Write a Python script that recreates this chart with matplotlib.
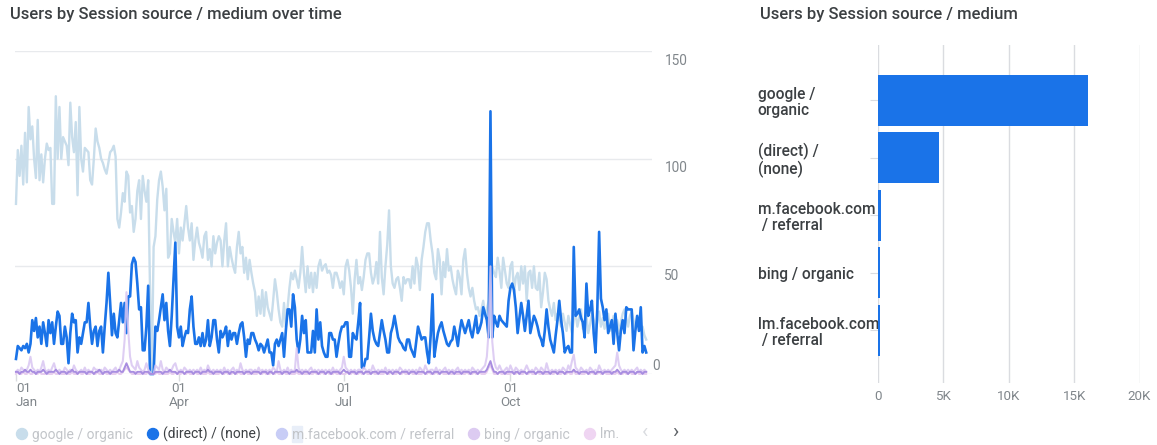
import matplotlib
matplotlib.use("Agg")
import matplotlib.pyplot as plt
from matplotlib.patches import Circle, Rectangle
import pandas as pd

plt.rcParams['font.family'] = ['Roboto', 'DejaVu Sans']

# ---------------- data ----------------
start_date = "2023-01-01"

google_organic = [
    79, 104, 92, 106, 88, 112, 89, 124, 109, 115,
    100, 91, 118, 90, 102, 89, 100, 107, 104, 105,
    79, 79, 129, 100, 124, 100, 110, 108, 106, 97,
    126, 110, 103, 117, 83, 124, 100, 94, 105, 104,
    103, 90, 88, 100, 114, 108, 105, 100, 98, 95,
    93, 98, 103, 104, 106, 101, 72, 68, 75, 84,
    80, 94, 92, 75, 78, 66, 72, 85, 90, 72,
    92, 85, 80, 90, 40, 0, 59, 64, 81, 90,
    94, 87, 76, 86, 54, 56, 72, 66, 61, 72,
    56, 68, 62, 70, 78, 68, 62, 70, 53, 62,
    68, 61, 58, 54, 64, 66, 53, 58, 50, 64,
    56, 61, 64, 62, 50, 62, 70, 50, 59, 54,
    50, 47, 59, 66, 56, 59, 47, 54, 44, 53,
    47, 42, 38, 27, 36, 28, 39, 27, 38, 31,
    28, 25, 34, 44, 38, 30, 24, 22, 33, 22,
    31, 40, 47, 44, 48, 44, 40, 47, 59, 47,
    38, 50, 40, 47, 38, 47, 40, 50, 53, 48,
    50, 51, 47, 48, 46, 40, 47, 47, 44, 40,
    43, 37, 50, 53, 48, 40, 28, 44, 53, 42,
    45, 39, 45, 53, 56, 56, 47, 42, 45, 52,
    42, 66, 45, 37, 50, 60, 76, 50, 42, 40,
    44, 45, 40, 34, 45, 42, 44, 44, 40, 50,
    42, 54, 50, 39, 53, 59, 66, 70, 70, 62,
    56, 47, 44, 58, 53, 37, 52, 45, 58, 48,
    50, 44, 40, 37, 48, 45, 37, 53, 58, 47,
    40, 36, 40, 34, 30, 31, 27, 30, 34, 27,
    30, 34, 56, 50, 47, 45, 54, 48, 40, 54,
    48, 42, 40, 50, 52, 38, 45, 47, 39, 50,
    42, 50, 34, 47, 48, 40, 50, 40, 39, 47,
    31, 38, 47, 44, 34, 30, 27, 33, 25, 28,
    26, 22, 28, 24, 20, 27, 23, 19, 25, 28,
    22, 26, 30, 21, 24, 27, 19, 23, 28, 25,
    20, 24, 29, 22, 26, 21, 24, 28, 20, 23,
    27, 22, 25, 19, 24, 28, 30, 26, 22, 27,
    29, 25, 21, 26, 23, 20, 22, 18, 16,
]

direct_none = [
    7, 13, 12, 11, 13, 12, 14, 10, 14, 25,
    20, 26, 17, 22, 14, 24, 19, 13, 25, 19,
    24, 14, 22, 29, 27, 14, 14, 22, 17, 5,
    19, 28, 24, 25, 10, 17, 14, 19, 24, 24,
    33, 22, 14, 20, 22, 13, 20, 22, 10, 22,
    33, 47, 33, 18, 28, 19, 17, 25, 33, 24,
    33, 19, 36, 36, 51, 54, 52, 42, 30, 31,
    11, 11, 22, 41, 0, 0, 0, 22, 20, 25,
    31, 37, 25, 33, 20, 13, 27, 44, 61, 22,
    17, 22, 13, 17, 20, 19, 30, 36, 22, 14,
    14, 17, 13, 19, 13, 16, 25, 13, 17, 25,
    25, 16, 10, 20, 17, 19, 22, 13, 20, 16,
    19, 19, 14, 19, 23, 24, 17, 8, 16, 14,
    19, 19, 16, 14, 11, 14, 13, 10, 13, 16,
    10, 10, 4, 14, 16, 13, 16, 19, 8, 20,
    30, 30, 22, 37, 31, 16, 10, 16, 27, 19,
    25, 10, 10, 10, 20, 10, 30, 16, 24, 13,
    10, 8, 8, 19, 19, 16, 16, 8, 14, 19,
    22, 22, 24, 24, 8, 8, 19, 17, 16, 24,
    33, 3, 3, 7, 7, 17, 28, 20, 16, 14,
    13, 19, 25, 20, 16, 10, 10, 19, 22, 27,
    22, 17, 15, 14, 12, 11, 16, 16, 12, 10,
    8, 15, 22, 19, 16, 17, 17, 10, 5, 18,
    37, 8, 14, 19, 22, 24, 20, 17, 14, 13,
    15, 16, 22, 18, 13, 20, 25, 22, 19, 22,
    25, 20, 17, 22, 27, 19, 21, 24, 31, 28,
    25, 17, 122, 17, 27, 24, 22, 27, 25, 24,
    23, 22, 34, 40, 42, 39, 31, 19, 26, 33,
    27, 20, 27, 34, 19, 23, 27, 25, 22, 18,
    16, 13, 20, 30, 22, 16, 13, 10, 18, 25,
    34, 25, 19, 10, 12, 13, 10, 10, 59, 27,
    28, 30, 26, 24, 17, 42, 27, 30, 34, 19,
    10, 30, 66, 35, 31, 25, 30, 19, 22, 25,
    14, 28, 19, 11, 20, 25, 19, 31, 30, 30,
    30, 11, 20, 27, 20, 31, 10, 13, 10,
]

m_facebook_referral = [
    1, 1, 0, 1, 1, 2, 1, 1, 2, 1,
    1, 0, 1, 1, 1, 2, 1, 0, 1, 1,
    1, 1, 2, 1, 0, 1, 1, 1, 0, 1,
    1, 2, 1, 1, 0, 1, 1, 1, 1, 0,
    1, 1, 1, 0, 1, 1, 2, 1, 0, 1,
    1, 1, 0, 1, 1, 1, 1, 2, 1, 1,
    3, 5, 3, 1, 1, 1, 0, 1, 1, 1,
    0, 1, 1, 1, 0, 0, 0, 1, 1, 1,
    1, 0, 1, 1, 1, 2, 1, 1, 1, 0,
    1, 1, 1, 0, 1, 1, 1, 1, 0, 1,
    1, 1, 0, 1, 1, 1, 2, 1, 1, 0,
    1, 1, 1, 1, 0, 1, 1, 1, 0, 1,
    1, 0, 1, 1, 1, 1, 0, 1, 1, 1,
    0, 1, 1, 1, 1, 0, 1, 1, 1, 0,
    1, 1, 0, 1, 1, 1, 1, 0, 1, 1,
    1, 0, 1, 1, 1, 2, 1, 1, 0, 1,
    1, 1, 0, 1, 1, 1, 1, 0, 1, 1,
    1, 0, 1, 1, 0, 1, 1, 1, 1, 0,
    1, 2, 1, 1, 0, 1, 1, 1, 0, 1,
    1, 1, 0, 1, 1, 1, 0, 1, 1, 1,
    0, 1, 1, 1, 1, 0, 1, 1, 0, 1,
    1, 1, 0, 1, 1, 1, 1, 0, 1, 1,
    1, 0, 1, 1, 1, 1, 0, 1, 1, 1,
    0, 1, 1, 1, 0, 1, 1, 1, 1, 0,
    1, 1, 0, 1, 1, 1, 0, 1, 1, 1,
    1, 0, 1, 1, 1, 0, 1, 1, 1, 1,
    2, 4, 6, 3, 1, 1, 0, 1, 1, 1,
    0, 1, 1, 1, 1, 0, 1, 1, 0, 1,
    1, 1, 0, 1, 1, 1, 1, 0, 1, 1,
    1, 0, 1, 1, 1, 0, 1, 1, 1, 0,
    1, 1, 1, 0, 1, 1, 1, 1, 2, 1,
    1, 0, 1, 1, 1, 1, 0, 1, 1, 1,
    0, 1, 1, 1, 0, 1, 1, 1, 1, 0,
    1, 1, 2, 1, 0, 1, 1, 1, 0, 1,
    1, 1, 0, 1, 1, 1, 0, 1, 1,
]

bing_organic = [
    1, 2, 1, 3, 2, 1, 2, 4, 8, 3,
    2, 1, 2, 1, 3, 6, 2, 1, 2, 1,
    3, 5, 2, 1, 2, 1, 1, 3, 2, 1,
    2, 1, 4, 2, 1, 1, 2, 1, 3, 1,
    2, 1, 1, 3, 2, 2, 1, 2, 1, 3,
    2, 1, 2, 1, 2, 3, 1, 2, 4, 6,
    16, 38, 20, 8, 4, 3, 2, 6, 3, 2,
    1, 2, 5, 2, 1, 0, 0, 4, 3, 2,
    6, 2, 1, 3, 2, 1, 2, 4, 5, 2,
    1, 2, 1, 3, 2, 1, 2, 1, 2, 1,
    2, 1, 3, 1, 2, 1, 4, 2, 1, 2,
    1, 2, 1, 2, 1, 3, 1, 2, 1, 2,
    3, 1, 2, 1, 5, 2, 1, 2, 1, 2,
    2, 1, 2, 1, 3, 1, 2, 1, 2, 1,
    2, 1, 3, 2, 1, 6, 2, 1, 2, 1,
    3, 1, 2, 1, 2, 12, 3, 1, 2, 1,
    2, 1, 2, 3, 1, 2, 1, 2, 1, 2,
    1, 2, 1, 2, 1, 3, 1, 2, 1, 2,
    3, 8, 3, 2, 1, 2, 1, 2, 1, 2,
    2, 1, 3, 2, 1, 2, 1, 4, 2, 1,
    2, 1, 2, 1, 3, 1, 2, 1, 2, 1,
    2, 1, 3, 2, 1, 2, 1, 2, 1, 2,
    1, 2, 1, 3, 2, 1, 4, 2, 1, 2,
    2, 1, 3, 1, 2, 1, 2, 3, 1, 2,
    1, 2, 1, 2, 3, 1, 2, 1, 2, 1,
    2, 1, 3, 2, 1, 2, 1, 2, 3, 4,
    8, 20, 50, 15, 6, 3, 2, 4, 2, 1,
    2, 3, 1, 4, 2, 1, 3, 2, 1, 2,
    1, 2, 4, 2, 1, 2, 1, 3, 2, 1,
    3, 2, 1, 5, 2, 1, 2, 1, 2, 1,
    2, 1, 3, 2, 1, 4, 2, 6, 9, 3,
    2, 1, 3, 2, 1, 2, 1, 3, 2, 1,
    2, 1, 4, 2, 1, 2, 1, 2, 1, 2,
    3, 4, 10, 4, 2, 1, 2, 1, 2, 1,
    2, 1, 2, 3, 1, 2, 1, 2, 1,
]

lm_facebook_referral = [
    0, 1, 0, 0, 1, 0, 0, 1, 0, 0,
    1, 0, 0, 1, 0, 0, 0, 1, 0, 0,
    0, 1, 0, 0, 1, 0, 0, 0, 1, 0,
    0, 1, 0, 0, 0, 1, 0, 0, 1, 0,
    0, 0, 1, 0, 0, 1, 0, 0, 0, 1,
    0, 0, 1, 0, 0, 0, 1, 0, 0, 1,
    2, 3, 2, 1, 0, 0, 1, 0, 0, 0,
    1, 0, 0, 1, 0, 0, 0, 0, 1, 0,
    0, 1, 0, 0, 0, 1, 0, 0, 1, 0,
    0, 0, 1, 0, 0, 1, 0, 0, 0, 1,
    0, 0, 1, 0, 0, 0, 1, 0, 0, 1,
    0, 0, 0, 1, 0, 0, 1, 0, 0, 0,
    1, 0, 0, 1, 0, 0, 0, 1, 0, 0,
    1, 0, 0, 0, 1, 0, 0, 1, 0, 0,
    0, 1, 0, 0, 1, 0, 0, 0, 1, 0,
    0, 1, 0, 0, 0, 1, 0, 0, 1, 0,
    0, 0, 1, 0, 0, 1, 0, 0, 0, 1,
    0, 0, 1, 0, 0, 0, 1, 0, 0, 1,
    0, 0, 0, 1, 0, 0, 1, 0, 0, 0,
    1, 0, 0, 1, 0, 0, 0, 1, 0, 0,
    1, 0, 0, 0, 1, 0, 0, 1, 0, 0,
    0, 1, 0, 0, 1, 0, 0, 0, 1, 0,
    0, 1, 0, 0, 0, 1, 0, 0, 1, 0,
    0, 0, 1, 0, 0, 1, 0, 0, 0, 1,
    0, 0, 1, 0, 0, 0, 1, 0, 0, 1,
    0, 0, 0, 1, 0, 0, 1, 0, 0, 0,
    1, 3, 4, 2, 0, 0, 0, 1, 0, 0,
    1, 0, 0, 0, 1, 0, 0, 1, 0, 0,
    0, 1, 0, 0, 1, 0, 0, 0, 1, 0,
    0, 1, 0, 0, 0, 1, 0, 0, 1, 0,
    0, 0, 1, 0, 0, 1, 0, 0, 2, 0,
    0, 1, 0, 0, 0, 1, 0, 0, 1, 0,
    0, 0, 1, 0, 0, 1, 0, 0, 0, 1,
    0, 0, 1, 0, 0, 0, 1, 0, 0, 1,
    0, 0, 0, 1, 0, 0, 1, 0, 0,
]

bar_categories = ["google /\norganic", "(direct) /\n(none)", "m.facebook.com\n / referral",
                  "bing / organic", "lm.facebook.com\n / referral"]
bar_values = [16070, 4680, 220, 170, 160]
bar_ticks = [0, 5000, 10000, 15000, 20000]
bar_tick_labels = ["0", "5K", "10K", "15K", "20K"]

y_ticks = [0, 50, 100, 150]
month_ticks = ["2023-01-01", "2023-04-01", "2023-07-01", "2023-10-01"]
month_labels = ["01\nJan", "01\nApr", "01\nJul", "01\nOct"]

legend_names = ["google / organic", "(direct) / (none)", "m.facebook.com / referral",
                "bing / organic", "lm."]

# ---------------- style ----------------
W, H = 1157, 445
TITLE_C = "#3c4043"
TICK_C = "#80868b"
GRID_C = "#e8eaed"
C_GOOGLE = "#c8ddeb"
C_DIRECT = "#1a73e8"
C_MFB = "#a88de0"
C_BING = "#d9c6f2"
C_LM = "#e7cdee"

fig = plt.figure(figsize=(W / 100, H / 100), dpi=100)

# ---------------- line chart ----------------
ax = fig.add_axes([15 / W, 1 - 374 / H, (652 - 15) / W, (374 - 51) / H])
dates = pd.date_range(start_date, periods=len(direct_none))
d0 = pd.Timestamp(start_date)
ax.set_xlim(d0 - pd.Timedelta(hours=13), d0 + pd.Timedelta(days=351.2))
ax.set_ylim(0, 150)

for v in y_ticks:
    ax.axhline(v, color=GRID_C, lw=1.0, zorder=0)

ax.plot(dates, google_organic, color=C_GOOGLE, lw=1.7, zorder=2, clip_on=False)
ax.plot(dates, direct_none, color=C_DIRECT, lw=1.9, zorder=3, clip_on=False)
ax.plot(dates, lm_facebook_referral, color=C_LM, lw=1.4, zorder=4, clip_on=False)
ax.plot(dates, bing_organic, color=C_BING, lw=1.5, alpha=0.85, zorder=4, clip_on=False)
ax.plot(dates, m_facebook_referral, color=C_MFB, lw=1.4, zorder=5, clip_on=False)

for s in ax.spines.values():
    s.set_visible(False)
ax.set_yticks([])
ax.set_xticks(pd.to_datetime(month_ticks))
ax.set_xticklabels(month_labels, fontsize=9.6, color=TICK_C, linespacing=1.05)
ax.tick_params(axis="x", length=5, color="#dadce0", width=1, pad=1)
lbls = ax.get_xticklabels()
lbls[0].set_ha("left")
ax.patch.set_alpha(0)

# ---------------- bar chart ----------------
bx = fig.add_axes([878 / W, 1 - 383 / H, (1139.5 - 878) / W, (383 - 45) / H])
ypos = list(range(len(bar_values)))
bx.barh(ypos, bar_values, height=0.89, color=C_DIRECT, zorder=3)
bx.set_ylim(4.92, -0.96)
bx.set_xlim(0, 20000)
bx.set_xticks(bar_ticks)
bx.set_xticklabels(bar_tick_labels, fontsize=9.6, color=TICK_C)
bx.tick_params(axis="x", length=0, pad=5)
bx.set_yticks(ypos)
bx.set_yticklabels(bar_categories, fontsize=11.2, color=TITLE_C, fontweight=500,
                   ha="left", linespacing=1.12)
bx.tick_params(axis="y", length=6, color="#dadce0", pad=(118 - 6) * 0.72)
bx.grid(axis="x", color="#dadce0", lw=1, zorder=0)
for s in bx.spines.values():
    s.set_visible(False)

# ---------------- overlay (titles, legend, y labels) ----------------
ov = fig.add_axes([0, 0, 1, 1])
ov.set_xlim(0, W)
ov.set_ylim(H, 0)
ov.axis("off")
ov.patch.set_alpha(0)

ov.text(10, 15, "Users by Session source / medium over time", fontsize=12,
        color=TITLE_C, fontweight=500, va="center", ha="left")
ov.text(760, 15, "Users by Session source / medium", fontsize=12,
        color=TITLE_C, fontweight=500, va="center", ha="left")

ylab_pos = {150: (676, 61), 100: (676, 168), 50: (672, 276), 0: (656, 366)}
for v in y_ticks:
    px, py = ylab_pos[v]
    ov.text(px, py, str(v), fontsize=9.8, color=TICK_C, ha="center", va="center")

leg_colors = [C_GOOGLE, C_DIRECT, "#c8cdf6", "#dccbf1", "#efd5f2"]
leg_text_c = ["#c2c5c9", TITLE_C, "#c2c5c9", "#c2c5c9", "#c2c5c9"]
leg_cx = [22, 153, 282, 474, 590]
ov.add_patch(Rectangle((292, 426), 10, 16, color="#e8eef8", zorder=1))
for name, c, tc, cx in zip(legend_names, leg_colors, leg_text_c, leg_cx):
    ov.add_patch(Circle((cx, 434), 5.5, color=c, zorder=2))
    ov.text(cx + 10, 434.5, name, fontsize=10, color=tc, va="center", ha="left", zorder=3)
ov.text(645, 433, "\u2039", fontsize=15, color="#dadce0", ha="center", va="center")
ov.text(675, 433, "\u203a", fontsize=15, color="#5f6368", ha="center", va="center")

fig.savefig("out.png", dpi=100)
